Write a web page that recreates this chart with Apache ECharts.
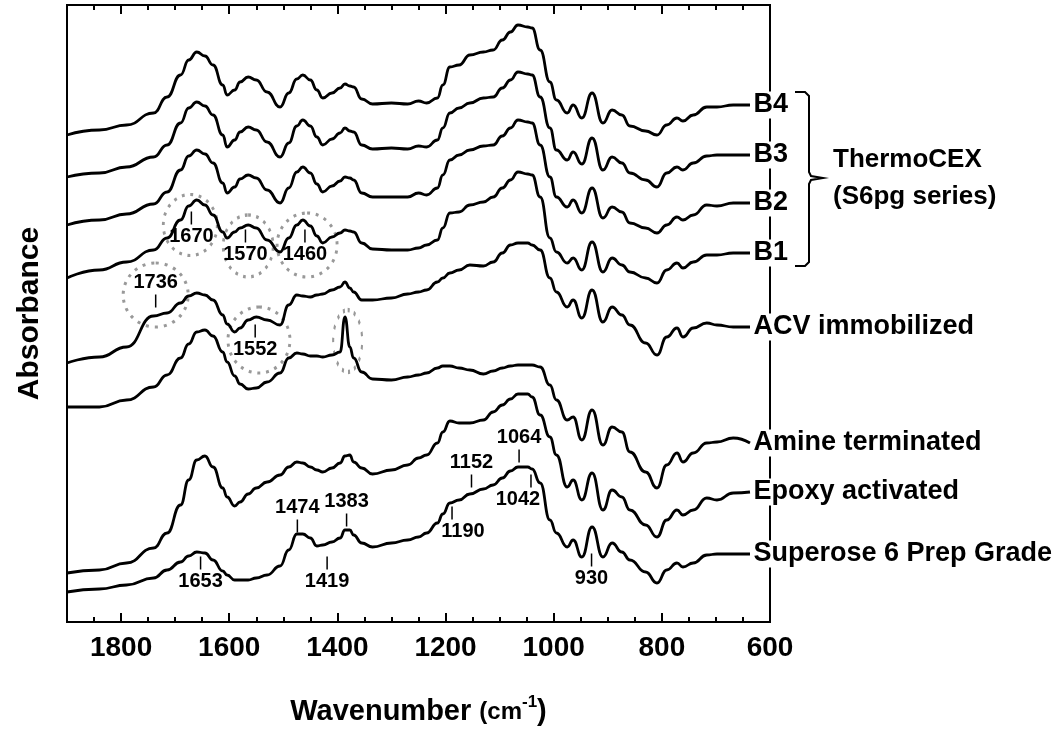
<!DOCTYPE html>
<html>
<head>
<meta charset="utf-8">
<script src="https://cdn.jsdelivr.net/npm/echarts/dist/echarts.min.js"></script>
<style>
html, body { margin: 0; padding: 0; background: #fff; }
#chart { width: 1057px; height: 735px; }
</style>
</head>
<body>
<div id="chart"></div>
<script>
// wavenumber grid (cm-1) shared by all the spectra
var wavenumber = [1900, 1840, 1790, 1740, 1715, 1690, 1675, 1660, 1645, 1630, 1612, 1604, 1590, 1580, 1565, 1550, 1530, 1506,
    1490, 1475, 1464, 1450, 1438, 1427, 1410, 1395, 1386, 1377, 1370, 1355, 1335, 1300, 1270, 1250, 1235, 1215, 1205, 1192,
    1175, 1155, 1130, 1112, 1095, 1080, 1066, 1048, 1040, 1025, 1007, 995, 975, 964, 948, 929, 909, 892, 874, 859, 830, 809,
    791, 772, 761, 742, 717, 698, 668, 637];

// absorbance, stacked (arbitrary units)
var b4 = [487, 492, 497, 509, 525, 547, 562, 570, 566, 557, 537, 527, 532, 540, 545, 542, 530, 515, 529, 543, 547, 542, 532, 524,
    529, 534, 538, 536, 535, 523, 518, 519, 518, 521, 519, 524, 537, 555, 557, 567, 570, 572, 582, 590, 597, 595, 594, 572,
    540, 522, 509, 517, 504, 529, 499, 512, 507, 496, 491, 487, 497, 504, 501, 507, 515, 515, 517, 517];
var b3 = [445, 449, 455, 465, 477, 499, 514, 520, 516, 507, 487, 475, 482, 490, 495, 492, 480, 465, 479, 496, 502, 496, 485, 477,
    483, 489, 494, 491, 490, 477, 473, 474, 473, 476, 475, 482, 494, 509, 514, 519, 524, 525, 534, 542, 550, 548, 547, 525,
    494, 472, 462, 470, 458, 484, 452, 465, 459, 449, 442, 435, 449, 455, 452, 459, 466, 467, 467, 467];
var b2 = [397, 402, 408, 418, 430, 452, 466, 472, 468, 459, 439, 429, 435, 443, 447, 444, 432, 419, 434, 450, 455, 449, 438, 430,
    436, 441, 445, 444, 442, 429, 425, 425, 425, 429, 427, 434, 447, 462, 467, 472, 476, 477, 486, 494, 502, 500, 499, 477,
    445, 425, 415, 422, 409, 434, 404, 415, 410, 399, 394, 389, 397, 405, 402, 407, 417, 416, 419, 419];
var b1 = [344, 352, 360, 372, 384, 402, 416, 422, 417, 407, 390, 384, 390, 394, 397, 394, 382, 370, 384, 397, 402, 396, 386, 379,
    385, 389, 392, 391, 390, 379, 373, 372, 372, 374, 377, 382, 394, 409, 410, 417, 420, 425, 434, 442, 450, 448, 447, 425,
    384, 370, 359, 364, 352, 380, 350, 364, 357, 350, 344, 339, 352, 359, 354, 360, 367, 367, 369, 369];
var acv = [259, 265, 275, 306, 309, 319, 326, 329, 327, 322, 307, 298, 290, 294, 302, 305, 302, 297, 317, 327, 326, 325, 327, 328,
    332, 335, 340, 334, 330, 322, 322, 324, 328, 330, 332, 340, 344, 349, 352, 357, 356, 360, 369, 377, 379, 379, 377, 372,
    344, 330, 315, 322, 304, 332, 300, 315, 307, 297, 279, 267, 285, 294, 285, 294, 299, 297, 295, 295];
var amine = [215, 215, 222, 235, 247, 264, 278, 290, 292, 286, 270, 260, 246, 238, 233, 234, 240, 249, 264, 269, 268, 266, 266, 265,
    267, 270, 305, 275, 264, 250, 243, 242, 245, 247, 249, 254, 256, 256, 254, 252, 248, 251, 254, 256, 257, 257, 257, 255,
    237, 222, 202, 205, 182, 212, 177, 195, 190, 170, 150, 134, 157, 169, 160, 169, 179, 180, 184, 179];
var epoxy = [49, 52, 59, 74, 89, 117, 142, 162, 166, 155, 134, 125, 116, 120, 128, 134, 140, 147, 155, 160, 159, 155, 152, 150,
    154, 159, 166, 167, 160, 154, 148, 152, 157, 164, 167, 179, 190, 201, 199, 199, 202, 210, 217, 223, 228, 228, 225, 207,
    185, 167, 135, 142, 122, 149, 112, 132, 125, 112, 97, 85, 102, 112, 107, 112, 124, 122, 129, 130];
var superose = [30, 33, 37, 44, 52, 60, 66, 70, 69, 62, 51, 47, 42, 42, 42, 44, 47, 56, 72, 88, 88, 84, 76, 77,
    80, 84, 92, 92, 87, 79, 75, 79, 82, 85, 89, 99, 108, 119, 122, 128, 133, 137, 144, 151, 155, 155, 153, 139,
    102, 89, 75, 82, 65, 95, 65, 79, 70, 62, 50, 39, 52, 59, 55, 59, 67, 68, 68, 68];

var spectrumNames = ['B4', 'B3', 'B2', 'B1', 'ACV immobilized', 'Amine terminated', 'Epoxy activated', 'Superose 6 Prep Grade'];

// peak marks
var peakNames = ['1670', '1570', '1460', '1736', '1552', '1474', '1383', '1419', '1653', '1064', '1152', '1042', '1190', '930'];
var peakX = [1670, 1570, 1460, 1736, 1552, 1474, 1383, 1419, 1653, 1064, 1152, 1042, 1188, 930];
var peakY = [404, 386, 386, 321, 291, 96, 102, 59, 59, 166, 141, 141, 109, 62];

// dotted rings around bands
var ringX = [1672, 1565, 1456, 1736, 1545, 1381];
var ringY = [397, 376, 377, 327, 282, 281];

var font = "'Liberation Sans', Arial, sans-serif";
var chart = echarts.init(document.getElementById('chart'));

var spectra = [b4, b3, b2, b1, acv, amine, epoxy, superose];
var last = wavenumber.length - 1;
function pairs(ys) {
    return wavenumber.map(function (w, i) { return [w, ys[i]]; });
}

// label side / shift for each peak mark
var peakPlace = {
    '1736': 'top', '1474': 'top', '1383': 'top', '1064': 'top', '1152': 'top'
};
var peakShift = { '1042': -13, '1190': 11 };
var ringSize = [[54, 61], [50, 62], [60, 64], [65, 64], [62, 66], [29, 62]];

var ellipse = 'path://M1,0 C1.552,0 2,0.448 2,1 C2,1.552 1.552,2 1,2 C0.448,2 0,1.552 0,1 C0,0.448 0.448,0 1,0 Z';

var series = spectra.map(function (ys, i) {
    return {
        type: 'line',
        name: spectrumNames[i],
        data: pairs(ys),
        showSymbol: false,
        smooth: 0.5,
        smoothMonotone: 'x',
        silent: true,
        lineStyle: { color: '#000', width: 2.8 },
        // name written just after the end of the trace
        markPoint: {
            silent: true,
            symbol: 'rect',
            symbolSize: 1,
            itemStyle: { color: 'rgba(0,0,0,0)' },
            label: {
                show: true,
                position: 'right',
                distance: 2,
                formatter: spectrumNames[i],
                color: '#000',
                fontSize: 27,
                fontWeight: 'bold',
                fontFamily: font,
                backgroundColor: '#fff',
                padding: [0, 1]
            },
            data: [{ coord: [wavenumber[last], ys[last]] }]
        },
        z: 3
    };
});

series.push({
    type: 'scatter',
    name: 'rings',
    symbol: ellipse,
    silent: true,
    data: ringX.map(function (x, i) {
        return { value: [x, ringY[i]], symbolSize: ringSize[i] };
    }),
    itemStyle: { color: 'rgba(0,0,0,0)', borderColor: '#999', borderWidth: 3, borderType: [3, 6], opacity: 1 },
    z: 2
});

series.push({
    type: 'scatter',
    name: 'peaks',
    symbol: 'rect',
    symbolSize: [1.5, 13],
    silent: true,
    itemStyle: { color: '#000', opacity: 1 },
    data: peakNames.map(function (n, i) {
        return {
            name: n,
            value: [peakX[i], peakY[i]],
            label: { position: peakPlace[n] || 'bottom', offset: [peakShift[n] || 0, 0] }
        };
    }),
    label: {
        show: true,
        formatter: '{b}',
        color: '#000',
        fontSize: 20,
        fontWeight: 'bold',
        fontFamily: font,
        distance: 2
    },
    z: 4
});

function xAxisOf(pos, major, withLabels) {
    return {
        type: 'value',
        position: pos,
        min: 600,
        max: 1900,
        interval: major ? 200 : 50,
        inverse: true,
        axisLine: { show: false },
        splitLine: { show: false },
        axisTick: { show: true, inside: true, length: major ? 9 : 5, lineStyle: { color: '#000', width: 2 } },
        axisLabel: withLabels ? {
            show: true,
            margin: 12,
            color: '#000',
            fontSize: 28,
            fontWeight: 'bold',
            fontFamily: font,
            formatter: function (v) { return v % 200 === 0 ? String(v) : ''; }
        } : { show: false }
    };
}

var bottomAxis = xAxisOf('bottom', true, true);
bottomAxis.name = '{a|Wavenumber }{b|(cm}{c|-1}{a|)}';
bottomAxis.nameLocation = 'middle';
bottomAxis.nameGap = 72;
bottomAxis.nameTextStyle = {
    rich: {
        a: { fontSize: 29, fontWeight: 'bold', fontFamily: font, color: '#000', lineHeight: 36 },
        b: { fontSize: 24, fontWeight: 'bold', fontFamily: font, color: '#000', lineHeight: 36 },
        c: { fontSize: 17, fontWeight: 'bold', fontFamily: font, color: '#000', lineHeight: 17, verticalAlign: 'top' }
    }
};

var option = {
    animation: false,
    backgroundColor: '#fff',
    grid: { left: 67, right: 287, top: 5, bottom: 113, show: true, borderColor: '#000', borderWidth: 2, backgroundColor: 'transparent' },
    xAxis: [bottomAxis, xAxisOf('bottom', false, false), xAxisOf('top', true, false), xAxisOf('top', false, false)],
    yAxis: {
        type: 'value',
        min: 0,
        max: 617,
        axisLine: { show: false },
        axisTick: { show: false },
        axisLabel: { show: false },
        splitLine: { show: false },
        name: 'Absorbance',
        nameLocation: 'middle',
        nameGap: 22,
        nameTextStyle: { fontSize: 30, fontWeight: 'bold', fontFamily: font, color: '#000' }
    },
    graphic: [
        {
            type: 'polyline',
            shape: { points: [[795, 92], [805, 92], [809, 96], [809, 172], [811, 176], [823, 178], [811, 180], [809, 184],
                [809, 262], [805, 266], [795, 266]] },
            style: { stroke: '#000', lineWidth: 2, fill: null }
        },
        {
            type: 'text',
            left: 833,
            top: 141,
            style: { text: 'ThermoCEX\n(S6pg series)', font: "bold 26px 'Liberation Sans', Arial, sans-serif", lineHeight: 37, fill: '#000' }
        }
    ],
    series: series
};

chart.setOption(option);
</script>
</body>
</html>
